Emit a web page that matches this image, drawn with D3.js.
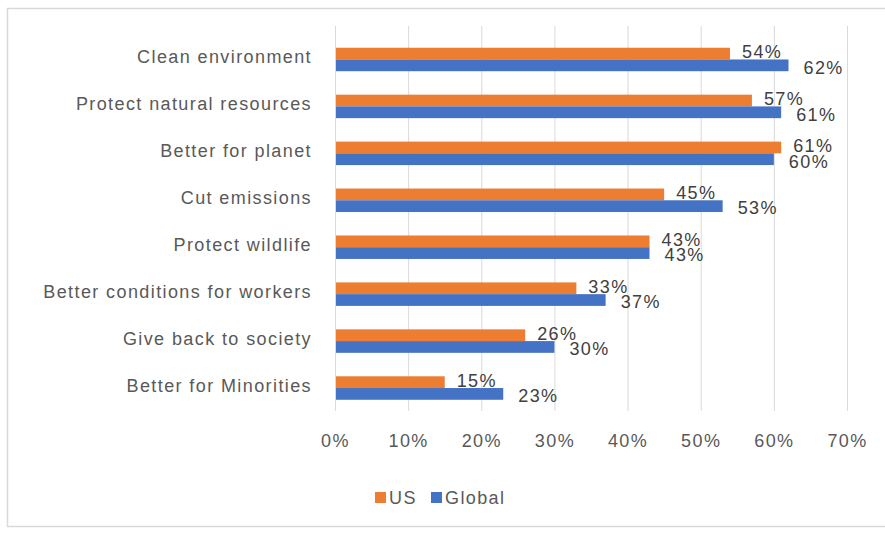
<!DOCTYPE html>
<html><head><meta charset="utf-8">
<script src="https://cdn.jsdelivr.net/npm/d3@7"></script>
<style>body{margin:0;background:#fff}svg{display:block}text{font-family:"Liberation Sans",Arial,sans-serif;letter-spacing:1.4px}</style>
</head><body><svg id="c" width="885" height="533"></svg>
<script>
const categories = ["Clean environment","Protect natural resources","Better for planet","Cut emissions","Protect wildlife","Better conditions for workers","Give back to society","Better for Minorities"];
const usValues = [0.54,0.57,0.61,0.45,0.43,0.33,0.26,0.15];
const globalValues = [0.62,0.61,0.60,0.53,0.43,0.37,0.30,0.23];
const seriesNames = ["US","Global"];
const seriesColors = ["#ED7D31","#4472C4"];
const tickValues = [0,0.1,0.2,0.3,0.4,0.5,0.6,0.7];

const svg = d3.select("#c");
// chart border
svg.append("rect").attr("x",7.5).attr("y",8.5).attr("width",890).attr("height",518)
  .attr("fill","none").attr("stroke","#d9d9d9").attr("stroke-width",1.5);

const x = d3.scaleLinear().domain([0,0.7]).range([335,847]);
const y = d3.scaleBand().domain(categories).range([36,411.5]).paddingInner(0.5).paddingOuter(0.25);
const inner = d3.scaleBand().domain(seriesNames).range([0,y.bandwidth()]);

// gridlines
svg.append("g").selectAll("line").data(tickValues).join("line")
  .attr("x1",d=>x(d)+0.5).attr("x2",d=>x(d)+0.5).attr("y1",26).attr("y2",411)
  .attr("stroke","#d9d9d9").attr("stroke-width",1);

// tick labels via axis
const ax = svg.append("g").attr("transform","translate(0,431)")
  .call(d3.axisBottom(x).tickValues(tickValues).tickFormat(d3.format(".0%")).tickSize(0));
ax.select(".domain").remove();
ax.selectAll("text").attr("font-size",18).attr("fill","#595959").attr("dy","0.7em");

// category labels
const ay = svg.append("g").attr("transform","translate(312,0)")
  .call(d3.axisLeft(y).tickSize(0).tickPadding(0));
ay.select(".domain").remove();
ay.selectAll("text").attr("font-size",18).attr("fill","#595959").attr("dy","0.2em");

const data = [usValues, globalValues];
data.forEach((vals,si)=>{
  const g = svg.append("g");
  g.selectAll("rect").data(vals).join("rect")
    .attr("x",x(0)).attr("y",(d,i)=>y(categories[i])+inner(seriesNames[si]))
    .attr("width",d=>x(d)-x(0)).attr("height",inner.bandwidth())
    .attr("fill",seriesColors[si]);
});
// axis line
svg.append("line").attr("x1",x(0)+0.5).attr("x2",x(0)+0.5).attr("y1",36).attr("y2",411).attr("stroke","#d9d9d9");

data.forEach((vals,si)=>{
  svg.append("g").selectAll("text").data(vals).join("text")
    .attr("x",d=>x(d)+(si===0?12:15))
    .attr("y",(d,i)=>y(categories[i])+inner(seriesNames[si])+inner.bandwidth()/2 + (si===0?-1.5:2))
    .attr("dy","0.35em").attr("font-size",18).attr("fill","#404040")
    .text(d=>d3.format(".0%")(d));
});

// legend
const lg = svg.append("g");
const lx = [375,431];
seriesNames.forEach((n,i)=>{
  lg.append("rect").attr("x",lx[i]).attr("y",492).attr("width",11).attr("height",11).attr("fill",seriesColors[i]);
  lg.append("text").attr("x",lx[i]+14).attr("y",497.5).attr("dy","0.35em").attr("font-size",18).attr("fill","#595959").text(n);
});
</script></body></html>
